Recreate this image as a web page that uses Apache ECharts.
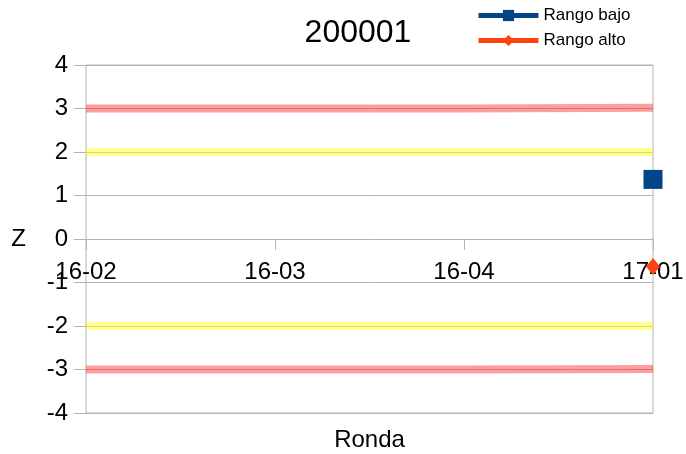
<!DOCTYPE html>
<html>
<head>
<meta charset="utf-8">
<script src="https://cdn.jsdelivr.net/npm/echarts@6/dist/echarts.min.js"></script>
<style>html,body{margin:0;padding:0;background:#fff}#c{width:686px;height:454px}</style>
</head>
<body>
<div id="c"></div>
<script>
const categories = ['16-02', '16-03', '16-04', '17-01'];
const rangoBajo = [null, null, null, 1.37];
const rangoAlto = [null, null, null, -0.63];
const limiteRojoSup = [3, 3, 3, 3.02];
const limiteAmarilloSup = [2, 2, 2, 2];
const limiteAmarilloInf = [-2, -2, -2, -2];
const limiteRojoInf = [-3, -3, -3, -2.99];
const yTicks = [-4, -3, -2, -1, 0, 1, 2, 3, 4];

const FONT = 'Liberation Sans';
const GRID_TOP = 65, GRID_BOTTOM = 41, H = 454;
const gridHeight = H - GRID_TOP - GRID_BOTTOM;
const chart = echarts.init(document.getElementById('c'), null, {renderer: 'canvas'});

function band(name, data, color) {
  return {
    name: name, type: 'line', data: data, symbol: 'none', silent: true,
    lineStyle: {width: 8, color: color, cap: 'butt'}, z: 1
  };
}

chart.setOption({
  animation: false,
  textStyle: {fontFamily: FONT},
  title: {
    text: '200001', left: 353, top: 12, textAlign: 'center',
    textStyle: {fontFamily: FONT, fontSize: 32, fontWeight: 'normal', color: '#000'}
  },
  legend: {
    data: ['Rango bajo', 'Rango alto'], orient: 'vertical', left: 471, top: 2,
    itemWidth: 60, itemHeight: 14, itemGap: 8,
    lineStyle: {width: 5},
    textStyle: {fontFamily: FONT, fontSize: 17, color: '#000'}
  },
  grid: {left: 86, right: 33, top: GRID_TOP, bottom: GRID_BOTTOM, show: true, borderColor: '#b3b3b3', borderWidth: 1,
    outerBoundsMode: 'none', containLabel: false},
  xAxis: {
    type: 'category', data: categories, boundaryGap: false, position: 'bottom',
    offset: -gridHeight / 2,
    axisLine: {onZero: false, lineStyle: {color: '#b3b3b3', width: 1}},
    axisTick: {show: true, length: 11, alignWithLabel: true, lineStyle: {color: '#b3b3b3'}},
    axisLabel: {fontFamily: FONT, fontSize: 24, color: '#000', margin: 21, interval: 0},
    splitLine: {show: false},
    name: 'Ronda', nameLocation: 'middle', nameGap: 189,
    nameTextStyle: {fontFamily: FONT, fontSize: 24, color: '#000'}
  },
  yAxis: {
    type: 'value', min: -4, max: 4, interval: 1,
    axisLine: {show: false},
    axisTick: {show: true, length: 12, lineStyle: {color: '#b3b3b3'}},
    axisLabel: {fontFamily: FONT, fontSize: 24, color: '#000', margin: 18,
      formatter: v => yTicks.includes(v) ? String(v) : ''},
    splitLine: {show: true, lineStyle: {color: '#b3b3b3', width: 1}},
    name: 'Z', nameLocation: 'middle', nameRotate: 0, nameGap: 60,
    nameTextStyle: {fontFamily: FONT, fontSize: 24, color: '#000'}
  },
  series: [
    band('rojo1', limiteRojoSup, 'rgba(255,40,40,0.45)'),
    band('amarillo1', limiteAmarilloSup, 'rgba(255,255,40,0.5)'),
    band('amarillo2', limiteAmarilloInf, 'rgba(255,255,40,0.5)'),
    band('rojo2', limiteRojoInf, 'rgba(255,40,40,0.45)'),
    {
      name: 'Rango bajo', type: 'line', data: rangoBajo, symbol: 'rect', symbolSize: 19,
      itemStyle: {color: '#004586'}, lineStyle: {width: 5, color: '#004586'}, z: 5
    },
    {
      name: 'Rango alto', type: 'line', data: rangoAlto, symbol: 'diamond', symbolSize: [14, 17],
      itemStyle: {color: '#ff420e'}, lineStyle: {width: 5, color: '#ff420e'}, z: 5
    }
  ]
});
</script>
</body>
</html>
